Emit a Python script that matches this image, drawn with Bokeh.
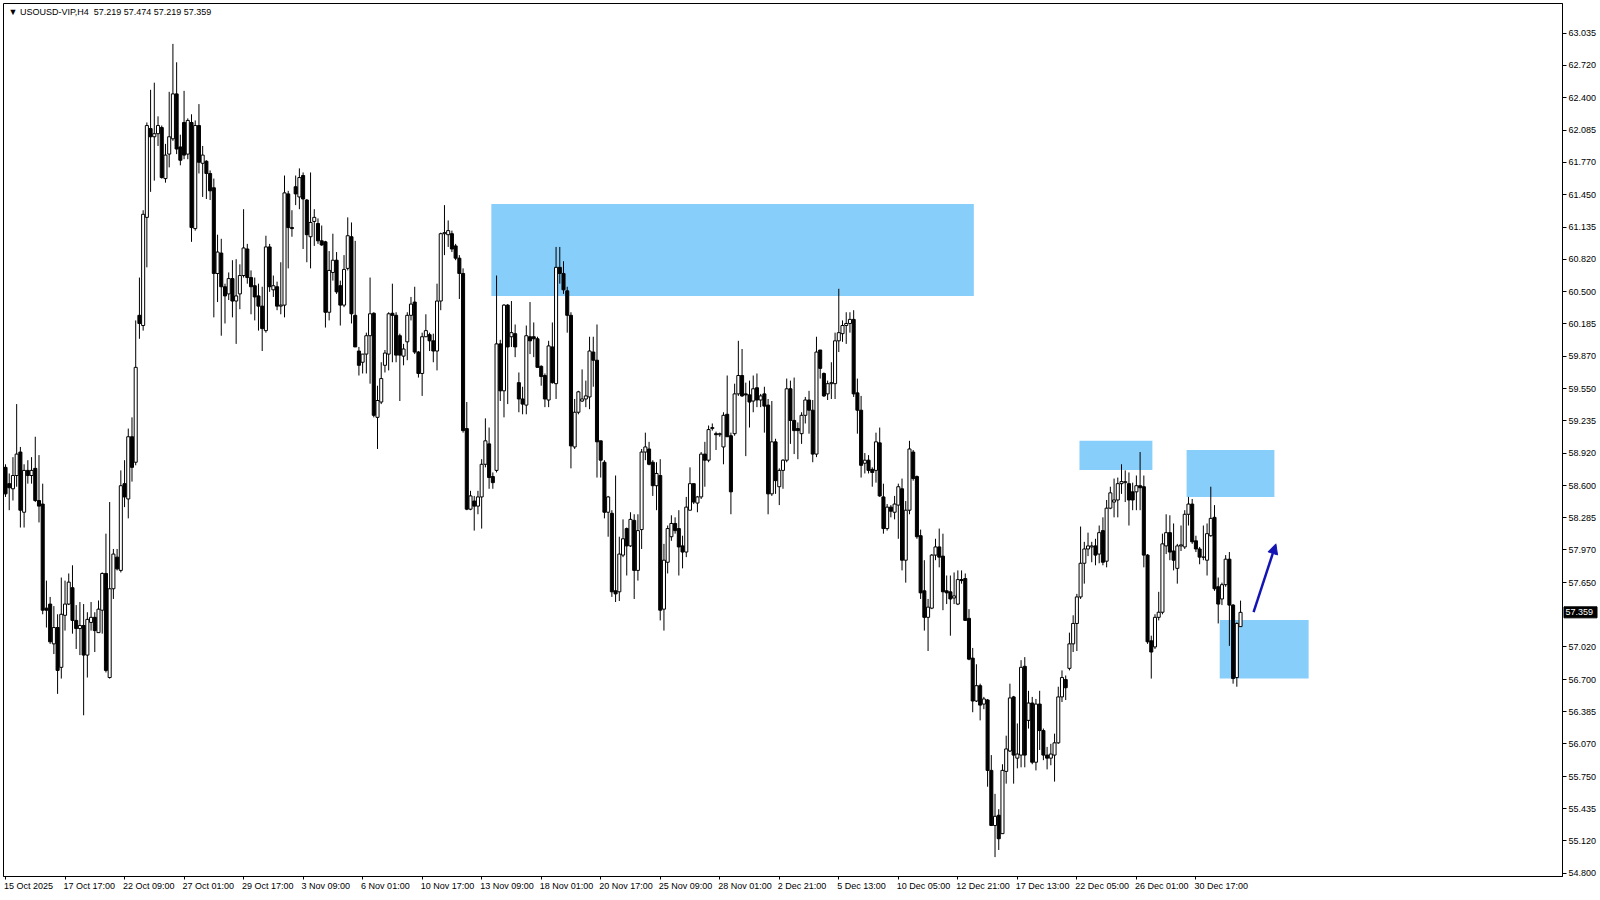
from bokeh.plotting import figure
from bokeh.models import ColumnDataSource, FixedTicker, Label, Arrow, NormalHead, Range1d, LinearAxis
from bokeh.core.properties import value
from bokeh.embed import file_html
from bokeh.resources import INLINE

# ---------------- data (H4 candles) ----------------
opens = [
    58.78, 58.62, 58.57, 58.70, 58.93, 58.34, 58.75, 58.70, 58.77, 58.455,
    58.42, 57.40, 57.44, 57.05, 57.21, 56.82, 57.33, 57.44, 57.60, 57.28,
    57.20, 57.23, 56.94, 57.26, 57.31, 57.16, 57.38, 57.74, 56.72, 57.59,
    57.90, 57.77, 58.62, 58.47, 59.08, 58.83, 60.27, 60.17, 61.23, 62.10,
    62.02, 62.05, 62.11, 61.61, 61.85, 62.00, 62.44, 61.92, 62.16, 61.85,
    62.16, 61.12, 62.13, 61.76, 61.78, 61.66, 61.52, 60.68, 60.88, 60.55,
    60.48, 60.63, 60.41, 60.48, 60.66, 60.92, 60.64, 60.56, 60.46, 60.36,
    60.12, 60.94, 60.52, 60.55, 60.36, 60.37, 61.46, 61.13, 61.53, 61.43,
    61.64, 61.40, 61.04, 61.19, 61.17, 61.00, 60.99, 60.30, 60.69, 60.81,
    60.56, 60.37, 60.73, 61.04, 60.27, 59.92, 59.81, 59.89, 60.07, 60.29,
    59.27, 59.42, 59.78, 59.89, 60.29, 60.27, 60.07, 59.87, 60.01, 60.27,
    60.40, 59.91, 59.70, 60.06, 60.08, 60.02, 59.92, 60.41, 61.07, 61.06,
    61.07, 60.95, 60.83, 60.68, 59.16, 58.37, 58.45, 58.40, 58.49, 58.81,
    59.01, 58.69, 58.75, 59.99, 59.53, 60.37, 60.06, 60.09, 59.61, 59.45,
    59.39, 60.06, 60.06, 60.04, 59.77, 59.68, 59.44, 59.96, 59.60, 60.74,
    60.68, 60.51, 60.27, 58.98, 59.32, 59.43, 59.45, 59.47, 59.91, 59.83,
    59.04, 58.83, 58.34, 58.33, 57.57, 57.56, 57.92, 58.18, 58.01, 58.26,
    57.77, 58.17, 58.93, 58.96, 58.83, 58.60, 58.70, 57.39, 57.85, 58.10,
    58.23, 58.18, 58.01, 57.95, 58.36, 58.62, 58.43, 58.49, 58.91, 58.85,
    59.16, 59.11, 59.10, 58.98, 59.30, 59.09, 59.11, 59.50, 59.68, 59.50,
    59.49, 59.43, 59.56, 59.44, 59.50, 59.39, 58.52, 59.03, 58.59, 58.75,
    58.85, 59.55, 59.24, 59.16, 59.11, 59.29, 59.44, 59.34, 58.91, 59.93,
    59.70, 59.50, 59.60, 59.60, 60.02, 60.09, 60.17, 60.19, 60.23, 59.51,
    59.34, 58.82, 58.85, 58.76, 58.75, 59.02, 58.49, 58.18, 58.39, 58.34,
    58.41, 58.57, 57.87, 58.36, 58.93, 58.69, 58.11, 57.57, 57.31, 57.40,
    57.92, 58.00, 57.91, 57.57, 57.56, 57.50, 57.44, 57.68, 57.69, 57.30,
    56.91, 56.49, 56.64, 56.46, 56.50, 55.81, 55.27, 55.37, 55.19, 55.80,
    56.00, 56.53, 55.93, 55.96, 56.83, 56.30, 56.47, 55.89, 56.46, 56.20,
    55.96, 55.93, 55.96, 56.08, 56.53, 56.70, 56.81, 57.05, 57.25, 57.51,
    57.84, 57.98, 58.00, 58.01, 57.93, 58.16, 57.86, 58.38, 58.44, 58.46,
    58.62, 58.63, 58.62, 58.54, 58.54, 58.60, 58.59, 57.92, 57.08, 57.02,
    57.31, 57.36, 58.01, 58.14, 57.96, 57.79, 58.01, 58.00, 58.32, 58.42,
    58.06, 57.98, 57.90, 57.87, 58.11, 58.29, 57.61, 57.49, 57.63, 57.88,
    57.43, 56.72, 57.219,
]
highs = [
    58.81, 58.72, 58.88, 59.40, 58.98, 58.81, 58.85, 58.88, 59.08, 58.90,
    58.62, 57.67, 57.51, 57.42, 57.34, 57.70, 57.67, 57.74, 57.82, 57.43,
    57.46, 57.44, 57.36, 57.46, 57.36, 57.475, 57.75, 58.13, 58.44, 57.98,
    57.98, 58.75, 58.85, 59.16, 59.27, 60.22, 60.64, 61.30, 62.16, 62.48,
    62.55, 62.22, 62.13, 61.95, 62.46, 62.93, 62.75, 62.04, 62.47, 62.20,
    62.24, 62.18, 62.34, 61.93, 61.79, 61.69, 61.61, 61.06, 61.02, 60.58,
    60.69, 60.81, 60.82, 60.77, 61.31, 60.97, 60.71, 60.64, 60.58, 60.55,
    61.05, 60.97, 60.66, 60.60, 60.79, 61.64, 61.49, 61.30, 61.64, 61.71,
    61.67, 61.41, 61.67, 61.31, 61.22, 61.15, 61.00, 60.90, 61.07, 60.89,
    60.61, 60.86, 61.23, 61.18, 61.00, 59.96, 59.89, 60.10, 60.64, 60.30,
    59.58, 59.81, 59.93, 60.30, 60.58, 60.30, 60.09, 59.99, 60.30, 60.45,
    60.55, 59.92, 60.10, 60.28, 60.10, 60.09, 60.58, 61.08, 61.35, 61.20,
    61.10, 60.97, 60.86, 60.73, 59.42, 58.55, 58.50, 58.55, 58.86, 59.26,
    59.17, 58.73, 60.66, 60.03, 60.38, 60.38, 60.41, 60.18, 59.71, 59.57,
    60.17, 60.40, 60.20, 60.06, 59.78, 59.70, 60.02, 60.20, 60.94, 60.94,
    60.80, 60.55, 60.30, 59.45, 59.53, 59.74, 59.63, 60.06, 60.06, 60.18,
    59.04, 58.85, 58.50, 58.36, 58.70, 58.10, 58.27, 58.19, 58.34, 58.32,
    58.32, 58.96, 59.12, 59.03, 58.85, 58.83, 58.86, 58.03, 58.21, 58.31,
    58.29, 58.36, 58.11, 58.49, 58.78, 58.62, 58.50, 58.93, 59.03, 59.19,
    59.21, 59.13, 59.12, 59.32, 59.68, 59.12, 59.60, 60.02, 59.94, 59.61,
    59.63, 59.68, 59.70, 59.50, 59.57, 59.45, 59.43, 59.06, 58.77, 58.86,
    59.65, 59.63, 59.66, 59.22, 59.32, 59.47, 59.53, 59.44, 60.06, 59.93,
    59.71, 59.63, 59.81, 60.10, 60.53, 60.22, 60.30, 60.30, 60.32, 59.65,
    59.48, 58.92, 58.90, 58.78, 59.12, 59.17, 58.62, 58.42, 58.41, 58.50,
    58.62, 58.67, 58.45, 59.04, 58.95, 58.70, 58.17, 57.87, 57.49, 57.93,
    58.08, 58.18, 58.13, 57.72, 57.72, 57.75, 57.77, 57.77, 57.74, 57.39,
    57.01, 56.85, 56.66, 56.53, 56.51, 55.96, 55.58, 55.43, 55.87, 56.15,
    56.66, 56.54, 56.27, 56.89, 56.92, 56.59, 56.53, 56.51, 56.59, 56.22,
    56.04, 56.07, 56.17, 56.63, 56.79, 56.74, 57.16, 57.33, 57.54, 58.20,
    58.05, 58.14, 58.05, 58.08, 58.21, 58.29, 58.46, 58.59, 58.67, 58.68,
    58.81, 58.75, 58.73, 58.63, 58.70, 58.93, 58.70, 57.93, 57.13, 57.34,
    57.56, 58.13, 58.32, 58.31, 58.23, 58.03, 58.21, 58.36, 58.49, 58.47,
    58.11, 58.00, 58.21, 58.23, 58.59, 58.41, 57.70, 57.65, 57.92, 57.95,
    57.44, 57.26, 57.474,
]
lows = [
    58.49, 58.36, 58.455, 58.59, 58.19, 58.19, 58.62, 58.62, 58.44, 58.24,
    57.34, 57.21, 57.05, 56.95, 56.56, 56.71, 57.18, 57.43, 57.15, 57.00,
    56.94, 56.35, 56.72, 57.18, 56.97, 57.16, 57.15, 56.77, 56.71, 57.49,
    57.77, 57.75, 58.39, 58.28, 58.64, 58.80, 60.04, 60.12, 60.74, 61.48,
    61.59, 61.93, 61.61, 61.57, 61.72, 61.98, 61.85, 61.74, 61.80, 61.80,
    60.99, 61.10, 61.66, 61.43, 61.41, 61.40, 60.25, 60.40, 60.07, 60.19,
    60.42, 60.25, 59.99, 60.33, 60.64, 60.58, 60.28, 60.22, 60.12, 59.92,
    60.10, 60.50, 60.45, 60.32, 60.28, 60.25, 60.73, 61.04, 61.35, 61.31,
    60.92, 60.79, 60.73, 60.95, 60.97, 60.95, 60.15, 60.22, 60.61, 60.48,
    60.17, 60.35, 60.71, 60.19, 59.96, 59.68, 59.70, 59.70, 59.60, 59.27,
    58.96, 59.40, 59.71, 59.73, 59.81, 59.81, 59.43, 59.78, 59.83, 60.22,
    59.89, 59.66, 59.48, 60.06, 59.92, 59.81, 59.73, 60.32, 60.86, 60.94,
    60.89, 60.81, 60.43, 59.12, 58.36, 58.36, 58.16, 58.32, 58.18, 58.78,
    58.57, 58.57, 58.73, 59.43, 59.27, 59.40, 59.96, 59.86, 59.32, 59.30,
    59.30, 59.89, 59.86, 59.76, 59.58, 59.37, 59.37, 59.60, 59.45, 60.58,
    60.48, 60.10, 58.77, 58.96, 59.30, 59.42, 59.37, 59.35, 59.57, 58.68,
    58.68, 58.28, 58.10, 57.51, 57.46, 57.47, 57.90, 57.72, 58.00, 57.49,
    57.67, 57.98, 58.85, 58.80, 58.50, 58.36, 57.28, 57.18, 57.74, 58.06,
    58.13, 57.72, 57.79, 57.90, 58.36, 58.42, 58.34, 58.47, 58.59, 58.83,
    59.14, 58.95, 59.08, 58.81, 59.08, 58.32, 59.09, 59.48, 59.47, 58.89,
    59.17, 59.32, 59.37, 59.37, 59.12, 58.32, 58.50, 58.52, 58.41, 58.57,
    58.83, 59.01, 58.91, 58.86, 59.01, 59.21, 59.11, 58.83, 58.88, 59.65,
    59.47, 59.44, 59.45, 59.45, 59.91, 60.01, 59.99, 60.10, 59.47, 59.11,
    58.68, 58.72, 58.72, 58.59, 58.63, 58.49, 58.13, 58.16, 58.29, 58.27,
    58.08, 57.77, 57.65, 58.32, 58.65, 58.08, 57.49, 57.18, 56.98, 57.39,
    57.87, 57.80, 57.38, 57.44, 57.13, 57.44, 57.43, 57.64, 57.28, 56.89,
    56.38, 56.48, 56.30, 56.41, 55.65, 55.27, 54.96, 55.03, 55.19, 55.68,
    55.99, 55.68, 55.83, 55.84, 55.84, 56.22, 55.87, 55.81, 56.01, 55.91,
    55.82, 55.86, 55.70, 56.07, 56.48, 56.50, 56.79, 56.97, 56.98, 57.49,
    57.64, 57.91, 57.85, 57.82, 57.84, 57.82, 57.80, 58.37, 58.29, 58.29,
    58.52, 58.44, 58.21, 58.36, 58.36, 58.36, 57.80, 57.05, 56.71, 57.00,
    57.28, 57.34, 57.93, 57.87, 57.77, 57.64, 57.96, 57.98, 58.21, 58.03,
    57.95, 57.83, 57.87, 57.72, 58.10, 57.57, 57.25, 57.43, 57.61, 57.03,
    56.66, 56.63, 57.219,
]
closes = [
    58.52, 58.58, 58.70, 58.91, 58.36, 58.75, 58.70, 58.75, 58.455, 58.40,
    57.38, 57.38, 57.07, 57.21, 56.79, 57.34, 57.44, 57.655, 57.28, 57.20,
    57.23, 56.94, 57.29, 57.31, 57.18, 57.39, 57.74, 56.79, 57.59, 57.93,
    57.785, 58.60, 58.49, 59.08, 58.78, 59.76, 60.19, 61.26, 62.13, 62.02,
    62.05, 62.13, 61.62, 61.84, 62.02, 62.44, 61.90, 61.79, 61.84, 62.18,
    61.13, 62.13, 61.77, 61.84, 61.66, 61.49, 60.68, 60.89, 60.55, 60.46,
    60.63, 60.41, 60.46, 60.66, 60.93, 60.64, 60.55, 60.45, 60.36, 60.14,
    60.94, 60.55, 60.56, 60.36, 60.37, 61.47, 61.13, 61.12, 61.46, 61.62,
    61.41, 61.06, 61.18, 61.23, 61.00, 60.96, 60.30, 60.71, 60.81, 60.50,
    60.37, 60.72, 61.05, 60.285, 59.96, 59.78, 59.89, 60.07, 60.285, 59.29,
    59.435, 59.65, 59.90, 60.285, 60.27, 59.88, 59.88, 59.94, 60.27, 60.38,
    59.91, 59.70, 60.06, 60.12, 60.02, 59.92, 60.41, 61.07, 61.08, 61.10,
    60.92, 60.83, 60.68, 59.14, 58.37, 58.50, 58.40, 58.49, 58.81, 59.04,
    58.68, 58.63, 59.99, 59.53, 60.37, 59.96, 60.10, 59.96, 59.45, 59.40,
    60.07, 60.02, 60.04, 59.76, 59.67, 59.45, 59.97, 59.61, 60.74, 60.68,
    60.52, 60.27, 58.99, 59.32, 59.52, 59.45, 59.48, 59.92, 59.83, 59.03,
    58.85, 58.34, 58.49, 57.56, 57.54, 57.93, 58.08, 58.01, 58.27, 57.77,
    58.16, 58.93, 58.98, 58.81, 58.60, 58.72, 57.38, 57.87, 58.18, 58.23,
    58.16, 58.00, 57.95, 58.39, 58.62, 58.44, 58.49, 58.91, 58.85, 59.15,
    59.17, 59.10, 59.11, 59.29, 59.08, 58.54, 59.50, 59.68, 59.48, 59.49,
    59.42, 59.55, 59.44, 59.48, 59.38, 58.52, 59.03, 58.65, 58.75, 58.85,
    59.55, 59.24, 59.14, 59.14, 59.29, 59.44, 59.34, 58.91, 59.91, 59.75,
    59.48, 59.60, 59.61, 60.02, 60.10, 60.17, 60.19, 60.23, 59.50, 59.34,
    58.80, 58.85, 58.75, 58.73, 59.03, 58.50, 58.18, 58.39, 58.35, 58.42,
    58.59, 57.87, 58.36, 58.96, 58.67, 58.10, 57.55, 57.31, 57.41, 57.92,
    58.00, 57.90, 57.56, 57.55, 57.49, 57.52, 57.68, 57.67, 57.28, 56.90,
    56.49, 56.64, 56.45, 56.51, 55.81, 55.27, 55.36, 55.14, 55.81, 56.02,
    56.52, 55.96, 55.97, 56.82, 55.96, 56.47, 55.89, 56.46, 56.20, 55.96,
    55.93, 55.97, 56.08, 56.53, 56.72, 56.62, 57.05, 57.25, 57.51, 57.84,
    57.98, 58.01, 58.01, 57.92, 58.14, 57.85, 58.38, 58.53, 58.46, 58.62,
    58.64, 58.64, 58.46, 58.46, 58.60, 58.58, 57.92, 57.07, 56.97, 57.31,
    57.36, 58.03, 58.14, 57.95, 57.87, 58.01, 58.02, 58.32, 58.42, 58.05,
    57.98, 57.90, 57.90, 58.13, 58.28, 57.59, 57.44, 57.63, 57.88, 57.43,
    56.71, 57.25, 57.359,
]

x_tick_bars = list(range(0, 321, 16))
x_tick_labels = [
    "15 Oct 2025", "17 Oct 17:00", "22 Oct 09:00", "27 Oct 01:00", "29 Oct 17:00",
    "3 Nov 09:00", "6 Nov 01:00", "10 Nov 17:00", "13 Nov 09:00", "18 Nov 01:00",
    "20 Nov 17:00", "25 Nov 09:00", "28 Nov 01:00", "2 Dec 21:00", "5 Dec 13:00",
    "10 Dec 05:00", "12 Dec 21:00", "17 Dec 13:00", "22 Dec 05:00", "26 Dec 01:00",
    "30 Dec 17:00",
]
price_ticks = [
    63.035, 62.720, 62.400, 62.085, 61.770, 61.450, 61.135, 60.820, 60.500,
    60.185, 59.870, 59.550, 59.235, 58.920, 58.600, 58.285, 57.970, 57.650,
    57.020, 56.700, 56.385, 56.070, 55.750, 55.435, 55.120, 54.800,
]

# supply / demand zones (bar index, price)
zone_left = [130.6, 288.7, 317.5, 326.4]
zone_right = [260.3, 308.3, 341.1, 350.3]
zone_bottom = [60.46, 58.755, 58.49, 56.71]
zone_top = [61.36, 59.04, 58.95, 57.285]

arrow_start = [335.5, 57.36]
arrow_end = [341.5, 58.03]

symbol = "USOUSD-VIP,H4"

# ---------------- figure ----------------
W, H = 1600, 900
BL, BT, BR, BB = 3, 3, 38, 24
FW, FH = W - BL - BR, H - BT - BB
BAR_PX = 3.72
x0 = -0.54
x1 = x0 + FW / BAR_PX
y_lo, y_hi = 54.77, 63.326

p = figure(
    width=W, height=H,
    x_range=Range1d(x0, x1),
    y_range=Range1d(y_lo, y_hi),
    y_axis_location="right",
    output_backend="svg", toolbar_location=None,
    min_border_left=BL, min_border_top=BT, min_border_right=BR, min_border_bottom=BB,
    background_fill_color="white", border_fill_color="white",
    outline_line_color="black", outline_line_width=1,
)
p.xgrid.visible = False
p.ygrid.visible = False

FONT = "Liberation Sans"
FS = "9px"

# bottom time axis: tick marks at the bars, labels start at the tick (MT4 style)
xa = p.xaxis[0]
xa.ticker = FixedTicker(ticks=x_tick_bars)
xa.major_label_overrides = {b: "" for b in x_tick_bars}
xa.major_label_text_font_size = "1px"
xa.major_label_standoff = 0
xa.major_tick_in = 0
xa.major_tick_out = 3
xa.minor_tick_line_color = None
xa.axis_line_color = "black"

CW = {" ": 0.278, ":": 0.278, "O": 0.778, "N": 0.722, "D": 0.722, "c": 0.5,
      "t": 0.278, "o": 0.556, "v": 0.5, "e": 0.556}


def text_w(s, px=9.0):
    return sum(CW.get(ch, 0.556) for ch in s) * px


label_pos = [round(b + (text_w(t) / 2 - 1.5) / BAR_PX, 3) for b, t in zip(x_tick_bars, x_tick_labels)]
xa2 = LinearAxis(ticker=FixedTicker(ticks=label_pos),
                 major_label_overrides={pp: t for pp, t in zip(label_pos, x_tick_labels)},
                 major_tick_in=0, major_tick_out=0, minor_tick_line_color=None,
                 axis_line_color=None, major_label_standoff=1,
                 major_label_text_font=FONT, major_label_text_font_size=FS,
                 major_label_text_color="black")
p.add_layout(xa2, "below")

ya = p.yaxis[0]
ya.ticker = FixedTicker(ticks=price_ticks)
ya.major_label_overrides = {t: f"{t:.3f}" for t in price_ticks}
ya.major_tick_in = 0
ya.major_tick_out = 4
ya.minor_tick_line_color = None
ya.axis_line_color = "black"
ya.major_label_text_font = FONT
ya.major_label_text_font_size = FS
ya.major_label_text_color = "black"
ya.major_label_standoff = 2

# zones
p.quad(left=zone_left, right=zone_right, bottom=zone_bottom, top=zone_top,
       fill_color="#87CEFA", line_color=None)

# candles
idx = list(range(len(closes)))
bull = [i for i in idx if closes[i] >= opens[i]]
bear = [i for i in idx if closes[i] < opens[i]]
src_all = ColumnDataSource(dict(x=idx, h=highs, l=lows))
src_bull = ColumnDataSource(dict(x=bull, o=[opens[i] for i in bull], c=[closes[i] for i in bull]))
src_bear = ColumnDataSource(dict(x=bear, o=[opens[i] for i in bear], c=[closes[i] for i in bear]))

p.segment(x0="x", y0="l", x1="x", y1="h", source=src_all, line_color="black", line_width=1)
p.vbar(x="x", top="c", bottom="o", width=0.82, source=src_bull,
       fill_color="white", line_color="black", line_width=1)
p.vbar(x="x", top="o", bottom="c", width=0.82, source=src_bear,
       fill_color="black", line_color="black", line_width=1)

# arrow
p.add_layout(Arrow(end=NormalHead(size=10, fill_color="#1414b4", line_color="#1414b4"),
                   x_start=arrow_start[0], y_start=arrow_start[1],
                   x_end=arrow_end[0], y_end=arrow_end[1],
                   line_color="#1414b4", line_width=2.5))

# header text
header = "\u25bc " + symbol + " \u00a0" + " ".join(
    f"{v:.3f}" for v in (opens[-1], highs[-1], lows[-1], closes[-1]))
p.add_layout(Label(x=x0, y=y_hi, x_offset=5, y_offset=-3, text=header,
                   text_font=FONT, text_font_size=FS, text_color="black",
                   text_baseline="top", text_align="left"))

# current price tag on the price scale (overlay-level glyphs)
tag_src = ColumnDataSource(dict(x=[x1 + 18 / BAR_PX], y=[closes[-1]],
                                tx=[x1], t=[f"{closes[-1]:.3f}"]))
p.rect(x="x", y="y", width=33, height=11, width_units="screen", height_units="screen",
       source=tag_src, fill_color="black", line_color="black", level="overlay")
p.text(x="tx", y="y", text="t", source=tag_src, x_offset=3,
       text_font=value(FONT), text_font_size=value(FS), text_color="white",
       text_baseline="middle", text_align="left", level="overlay")

open("out.html", "w").write(file_html(p, INLINE))
